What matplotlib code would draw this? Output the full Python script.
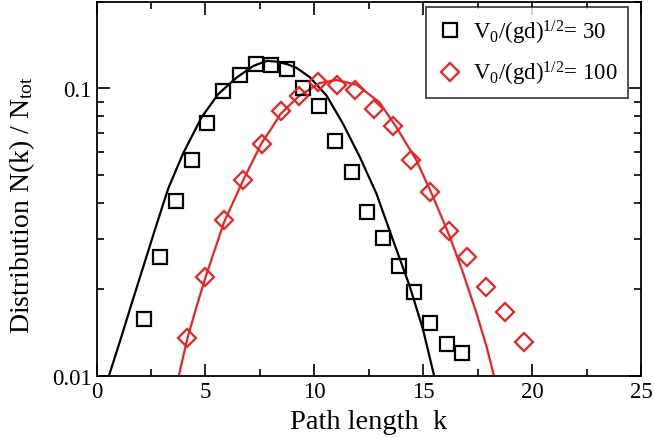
import matplotlib.pyplot as plt
from matplotlib.ticker import MultipleLocator, LogLocator, NullFormatter, FixedFormatter, FixedLocator

plt.rcParams['font.family'] = ['Liberation Serif', 'DejaVu Serif']
plt.rcParams['mathtext.fontset'] = 'custom'
plt.rcParams['mathtext.rm'] = 'Liberation Serif'
plt.rcParams['mathtext.it'] = 'Liberation Serif:italic'

# data points
k30 = [2.19, 2.90, 3.65, 4.39, 5.08, 5.81, 6.58, 7.30, 8.02, 8.75, 9.49,
       10.22, 10.95, 11.71, 12.42, 13.16, 13.88, 14.60, 15.33, 16.09, 16.80]
n30 = [0.0158, 0.0259, 0.0405, 0.0562, 0.0757, 0.0976, 0.1115, 0.122, 0.1205,
       0.1167, 0.1003, 0.0871, 0.0658, 0.0512, 0.0372, 0.0301, 0.0240, 0.0196,
       0.0153, 0.0129, 0.0120]

k100 = [4.14, 5.00, 5.85, 6.73, 7.58, 8.45, 9.29, 10.15, 11.02, 11.86, 12.73,
        13.61, 14.46, 15.30, 16.17, 17.03, 17.90, 18.77, 19.61]
n100 = [0.0135, 0.0221, 0.0349, 0.0479, 0.0642, 0.0837, 0.0943, 0.1049, 0.103,
        0.0987, 0.0849, 0.0743, 0.0562, 0.0437, 0.0318, 0.0258, 0.0204, 0.0167,
        0.01305]

# fit curves
kfit30 = [0.45, 0.57, 1.08, 1.61, 2.15, 2.68, 3.29, 3.98, 4.83, 5.59, 6.43,
          7.20, 7.81, 8.27, 8.75, 9.18, 9.79, 10.56, 11.32, 12.09, 12.85,
          13.61, 14.38, 14.99, 15.50, 15.60]
nfit30 = [0.0094, 0.0100, 0.0132, 0.0178, 0.0240, 0.0322, 0.0448, 0.0595,
          0.0795, 0.0956, 0.1091, 0.1198, 0.1247, 0.1240, 0.1215, 0.1180,
          0.1095, 0.0945, 0.0753, 0.0577, 0.0431, 0.0297, 0.0205, 0.0145,
          0.0100, 0.0094]

kfit100 = [3.70, 3.78, 4.17, 4.60, 5.02, 5.86, 6.73, 7.58, 7.97, 8.45, 9.29,
           10.25, 11.02, 11.94, 12.99, 13.77, 14.69, 15.45, 16.22, 16.83,
           17.44, 17.90, 18.25, 18.32]
nfit100 = [0.0094, 0.0100, 0.01347, 0.01747, 0.0222, 0.0343, 0.0479, 0.0645,
           0.0714, 0.0815, 0.0940, 0.1045, 0.1070, 0.1030, 0.0895, 0.0733,
           0.0562, 0.0420, 0.0305, 0.0228, 0.01657, 0.0127, 0.0100, 0.0095]

red = '#ee2222'

fig = plt.figure(figsize=(6.54, 4.39), dpi=100)
ax = fig.add_axes([0.1476, 0.1419, 0.8325, 0.8513])

ax.plot(kfit30, nfit30, '-', color='black', lw=1.6)
ax.plot(kfit100, nfit100, '-', color=red, lw=1.6)
ax.plot(k30, n30, 's', mfc='none', mec='black', ms=10, mew=1.6,
        ls='none', label=r'V$_0$/(gd)$^{1/2}$= 30')
ax.plot(k100, n100, 'D', mfc='none', mec=red, ms=9, mew=1.6,
        ls='none', label=r'V$_0$/(gd)$^{1/2}$= 100')

ax.set_yscale('log')
ax.set_xlim(0, 25)
ax.set_ylim(0.01, 0.2)

ax.xaxis.set_major_locator(MultipleLocator(5))
ax.xaxis.set_minor_locator(MultipleLocator(2.5))
ax.yaxis.set_major_locator(FixedLocator([0.01, 0.1]))
ax.yaxis.set_major_formatter(FixedFormatter(['0.01', '0.1']))
ax.yaxis.set_minor_locator(LogLocator(base=10, subs=range(2, 10)))
ax.yaxis.set_minor_formatter(NullFormatter())

ax.tick_params(which='both', direction='in', top=True, right=True,
               labelsize=16.5, width=1.2)
ax.tick_params(which='major', length=9)
ax.tick_params(which='minor', length=5)
for s in ax.spines.values():
    s.set_linewidth(1.3)

ax.set_xlabel('Path length  k', fontsize=20.5, labelpad=5)
ax.set_ylabel(r'Distribution N(k) / N$_{\rm tot}$', fontsize=20)
ax.yaxis.set_label_coords(-0.11, 0.46)

leg = ax.legend(loc='upper right', fontsize=16.5, frameon=True, fancybox=False,
                edgecolor='black', handletextpad=0.4, handlelength=1.2,
                borderpad=0.45, labelspacing=0.6, borderaxespad=0,
                bbox_to_anchor=(0.976, 0.9866))
leg.get_frame().set_linewidth(1.2)

fig.savefig('out.png', dpi=100)
